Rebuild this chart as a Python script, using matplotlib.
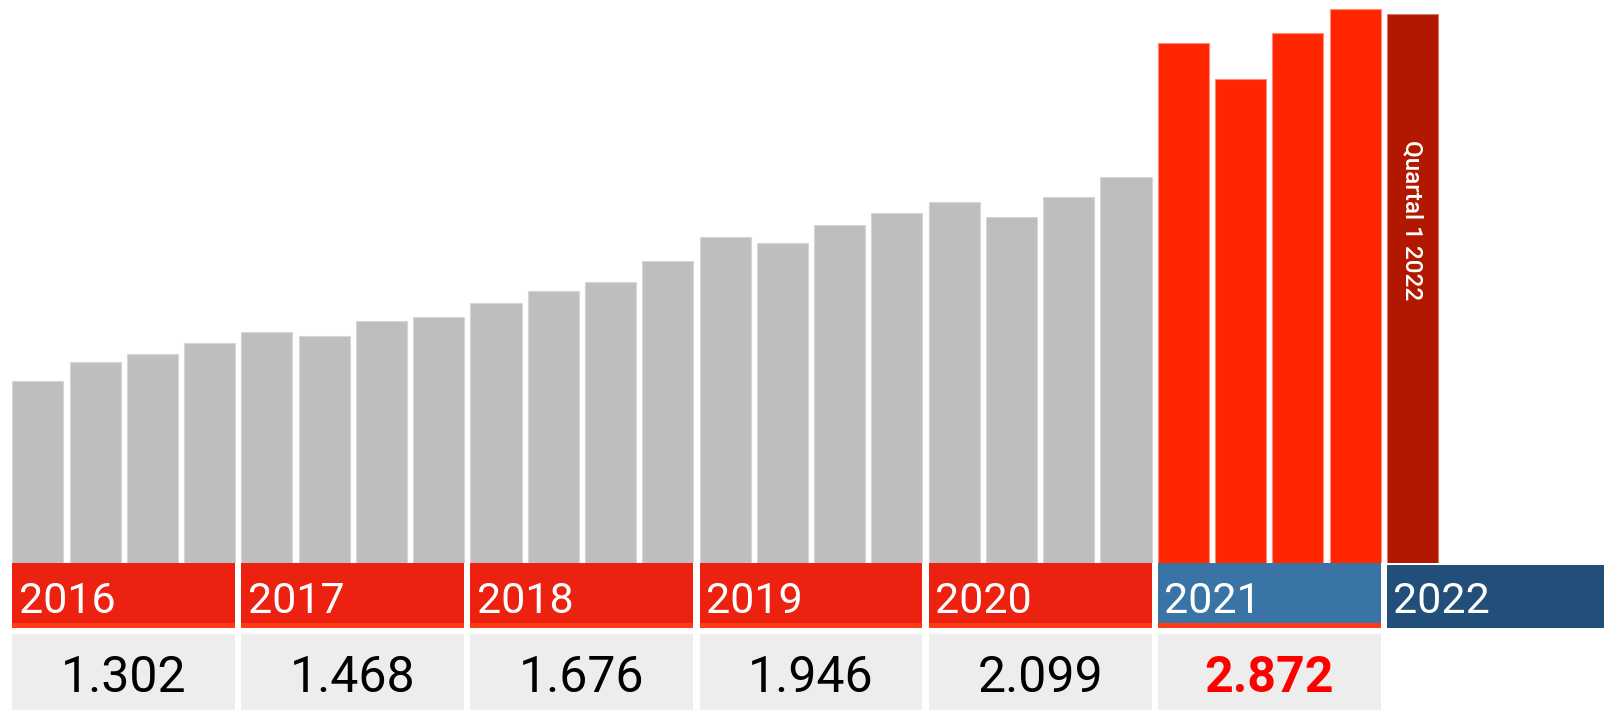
import matplotlib
matplotlib.use("Agg")
import matplotlib.pyplot as plt
import matplotlib.transforms as mtransforms
from matplotlib.patches import Rectangle

plt.rcParams["font.family"] = ["Roboto", "DejaVu Sans"]

# quarterly values, one list per year
years = ["2016", "2017", "2018", "2019", "2020", "2021", "2022"]
q2016 = [300, 323, 333, 346]
q2017 = [360, 355, 374, 379]
q2018 = [396, 411, 422, 447]
q2019 = [477, 470, 492, 507]
q2020 = [520, 502, 526, 551]
q2021 = [716, 671, 728, 757]
q2022 = [751]
quarter_label = "Quartal 1 2022"

quarters = [q2016, q2017, q2018, q2019, q2020, q2021, q2022]
values = [v for q in quarters for v in q]
totals = [sum(q) for q in quarters[:-1]]

GRAY = "#bebebe"
RED = "#ff2600"
DARK_RED = "#b21800"
BAND_RED = "#ec2110"
STRIP_RED = "#ff3a16"
BLUE = "#3a74a6"
DARK_BLUE = "#214f79"
BOX = "#ededed"

W, H = 1604, 710
base_px = 563          # bar baseline, pixels from top
pitch = 57.27          # pixel distance between bar centres
x0_px = 37.85          # centre of the first bar
width = 0.892

fig = plt.figure(figsize=(W / 100, H / 100), dpi=100)
xlim = (-x0_px / pitch, (W - x0_px) / pitch)

# bars
ax = fig.add_axes([0, (H - base_px) / H, 1, base_px / H])
colors = [GRAY] * 20 + [RED] * 4 + [DARK_RED]
edges = ["#d6d6d6"] * 20 + ["#ff8a7a"] * 4 + ["#d07a6a"]
x = list(range(len(values)))
ax.bar(x, values, width=width, color=colors, edgecolor=edges, linewidth=0.8)
ax.set_xlim(*xlim)
ax.set_ylim(76, 768.5)
ax.axis("off")

trans = mtransforms.blended_transform_factory(ax.transData, ax.transAxes)
ax.text(24, (base_px - 140) / base_px, quarter_label, rotation=270,
        ha="center", va="top", color="white", fontsize=17.5,
        fontweight="medium", transform=trans)

# year bands and totals, in pixel coordinates below the bars
tb = fig.add_axes([0, 0, 1, (H - base_px) / H])
tb.set_xlim(*xlim)
tb.set_ylim(H, base_px)
tb.axis("off")

for g, year in enumerate(years):
    left = 4 * g - width / 2
    if year == "2022":
        tb.add_patch(Rectangle((left, 565), xlim[1] - left, 63, color=DARK_BLUE, lw=0))
    else:
        right = 4 * g + 3 + width / 2
        tb.add_patch(Rectangle((left, 563), right - left, 65, color=STRIP_RED, lw=0))
        tb.add_patch(Rectangle((left, 563), right - left, 60,
                               color=BLUE if year == "2021" else BAND_RED, lw=0))
        tb.add_patch(Rectangle((left, 634), right - left, 76, color=BOX, lw=0))
        total = f"{totals[g]:,}".replace(",", ".")
        last = year == "2021"
        tb.text((left + right) / 2, 691.5, total, ha="center", va="baseline",
                fontsize=36, color="#ff0000" if last else "black",
                fontweight="bold" if last else "normal")
    tb.text(left + 0.11, 612.5, year, ha="left", va="baseline",
            fontsize=31, color="white")

fig.savefig("out.png", dpi=100)
